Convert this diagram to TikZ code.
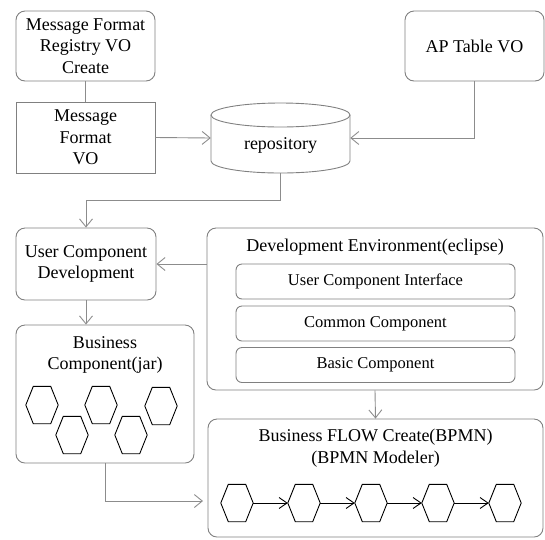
\documentclass[tikz,border=0pt]{standalone}
\usepackage{fontspec}
\setmainfont{Liberation Serif}
\usetikzlibrary{arrows.meta}
\definecolor{boxgray}{HTML}{808080}
\definecolor{lngray}{HTML}{8C8C8C}
\tikzset{
 big/.style={font=\fontsize{18}{21.5}\selectfont},
 rbox/.style={draw=boxgray, line width=0.9pt, rounded corners=9pt, align=center, big, inner sep=0pt},
 sbox/.style={draw=boxgray, line width=0.9pt, align=center, big, inner sep=0pt},
 ibox/.style={draw=boxgray, line width=0.9pt, rounded corners=6pt, font=\fontsize{16.5}{20}\selectfont, inner sep=0pt, minimum width=279pt, minimum height=35pt},
 lbl/.style={align=center, big, inner sep=0pt},
 conn/.style={draw=lngray, line width=0.9pt},
 arr/.style={conn, -{Straight Barb[length=8pt,width=13pt]}},
 hexnode/.style={inner sep=0pt, minimum width=32pt, minimum height=37pt},
 hexline/.style={draw=black, line width=0.9pt, line join=miter},
 flow/.style={draw=black, line width=0.9pt, -{Straight Barb[length=8pt,width=11pt]}},
}
\newcommand{\hexat}[3]{%
  \node[hexnode] (#1) at (#2,#3) {};
  \draw[hexline] (#1.west) -- ([xshift=7.5pt]#1.north west) -- ([xshift=-7.5pt]#1.north east)
    -- (#1.east) -- ([xshift=-7.5pt]#1.south east) -- ([xshift=7.5pt]#1.south west) -- cycle;}
\begin{document}
\begin{tikzpicture}[x=1pt,y=1pt]
\useasboundingbox (0,0) rectangle (545,-539);
% top row
\node[rbox, minimum width=139pt, minimum height=70pt] (mfr) at (85.5,-46) {Message Format\\Registry VO\\Create};
\node[sbox, minimum width=139pt, minimum height=71pt] (mfvo) at (85.5,-137.5) {Message\\Format\\VO};
\node[rbox, minimum width=139pt, minimum height=70pt] (ap) at (474.5,-46) {AP Table VO};
% repository cylinder
\node[inner sep=0pt, minimum width=139pt, minimum height=70pt] (repo) at (280.5,-138) {};
\draw[draw=boxgray, line width=0.9pt] (280.5,-115) ellipse [x radius=69.5, y radius=12];
\draw[draw=boxgray, line width=0.9pt] (211,-115) -- (211,-161) arc[start angle=180, end angle=360, x radius=69.5, y radius=12] -- (350,-115);
\node[lbl] (repolbl) at (280.5,-145) {repository};
% middle
\node[rbox, minimum width=140pt, minimum height=72pt] (ucd) at (86,-264) {User Component\\Development};
\node[rbox, minimum width=336pt, minimum height=162pt] (dev) at (375,-309) {};
\node[lbl] (devlbl) at (375,-247) {Development Environment(eclipse)};
\node[ibox] (uci) at (375.5,-281.5) {User Component Interface};
\node[ibox] (cc) at (375.5,-323.5) {Common Component};
\node[ibox] (bcomp) at (375.5,-365) {Basic Component};
% business component
\node[rbox, minimum width=178pt, minimum height=138pt] (bc) at (105,-394) {};
\node[lbl] (bclbl) at (105,-355) {Business\\Component(jar)};
\hexat{a1}{42}{-405}
\hexat{a2}{72}{-435}
\hexat{a3}{101}{-405}
\hexat{a4}{131}{-435}
\hexat{a5}{161}{-406}
% business flow
\node[rbox, minimum width=335pt, minimum height=118pt] (bf) at (375.5,-478) {};
\node[lbl] (bflbl) at (375.5,-448) {Business FLOW Create(BPMN)\\(BPMN Modeler)};
\hexat{f1}{237}{-503}
\hexat{f2}{304}{-503}
\hexat{f3}{371}{-503}
\hexat{f4}{438}{-503}
\hexat{f5}{505}{-503}
\draw[flow] (f1.east) -- (f2.west);
\draw[flow] (f2.east) -- (f3.west);
\draw[flow] (f3.east) -- (f4.west);
\draw[flow] (f4.east) -- (f5.west);
% connectors
\draw[conn] (mfr.south) -- (mfvo.north);
\draw[arr] (mfvo.east) -- (repo.west);
\draw[arr] (ap.south) |- (repo.east);
\draw[arr] (repo.south) -- ++(0,-27) -| (ucd.north);
\draw[arr] (ucd.east -| dev.west) -- (ucd.east);
\draw[arr] (ucd.south) -- (ucd.south |- bc.north);
\coordinate (bfin) at (203,-501);
\draw[arr] (bc.south) |- (bfin);
\draw[arr] (dev.south) -- (bf.north);
\end{tikzpicture}
\end{document}
